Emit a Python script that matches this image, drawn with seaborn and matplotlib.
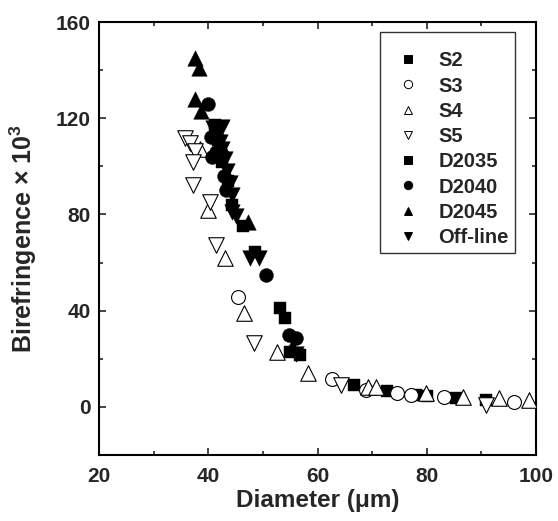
import matplotlib
matplotlib.use("Agg")
import matplotlib.pyplot as plt
from matplotlib.lines import Line2D
from matplotlib.ticker import MultipleLocator
import seaborn as sns
import pandas as pd

# Fibre diameter (um) and birefringence (x 10^3) for each spinning series
s2_x = [66.6, 72.8, 78.0, 80.0, 85.3, 90.8]
s2_y = [9.1, 6.7, 5.0, 4.6, 3.7, 2.9]

s3_x = [45.5, 62.7, 68.8, 74.6, 77.1, 83.1, 96.0]
s3_y = [45.7, 11.6, 7.1, 5.8, 5.0, 4.2, 2.1]

s4_x = [38.4, 40.0, 43.0, 46.6, 52.5, 58.2, 69.2, 70.8, 79.8, 86.6, 93.2, 98.7]
s4_y = [107.0, 82.0, 62.0, 39.0, 22.9, 13.9, 8.3, 8.3, 5.8, 4.2, 3.7, 2.9]

s5_x = [35.8, 36.7, 37.6, 37.2, 37.2, 40.3, 41.5, 48.4, 64.3, 90.8]
s5_y = [111.8, 109.7, 106.5, 101.8, 92.3, 85.0, 67.3, 26.6, 9.0, 0.8]

d2035_x = [41.3, 41.8, 42.5, 43.6, 44.3, 46.4, 48.6, 53.2, 54.1, 55.0, 56.8]
d2035_y = [117.0, 111.0, 102.0, 94.0, 84.0, 75.0, 64.5, 41.0, 37.0, 23.0, 21.5]

d2040_x = [40.0, 40.5, 40.6, 41.5, 42.8, 43.3, 50.5, 54.7, 56.0]
d2040_y = [126.0, 112.0, 104.0, 106.0, 96.0, 90.0, 55.0, 30.0, 28.5]

d2045_x = [37.6, 38.3, 37.6, 38.6, 41.5, 42.5, 47.2, 55.3]
d2045_y = [145.0, 141.0, 128.0, 123.0, 114.0, 108.0, 77.0, 25.0]

offline_x = [40.8, 42.6, 41.5, 42.2, 42.5, 43.0, 43.5, 44.0, 44.3, 44.4, 45.0, 47.7, 49.2, 56.0]
offline_y = [116.0, 116.5, 113.0, 110.0, 107.0, 103.0, 98.0, 93.0, 88.0, 81.0, 79.5, 62.0, 62.0, 22.0]

series_names = ["S2", "S3", "S4", "S5", "D2035", "D2040", "D2045", "Off-line"]
series_x = [s2_x, s3_x, s4_x, s5_x, d2035_x, d2040_x, d2045_x, offline_x]
series_y = [s2_y, s3_y, s4_y, s5_y, d2035_y, d2040_y, d2045_y, offline_y]

# marker, filled?, marker area (pt^2)
styles = {
    "S2": ("s", True, 80),
    "S3": ("o", False, 100),
    "S4": ("^", False, 125),
    "S5": ("v", False, 125),
    "D2035": ("s", True, 80),
    "D2040": ("o", True, 100),
    "D2045": ("^", True, 125),
    "Off-line": ("v", True, 125),
}

frames = []
for name, xs, ys in zip(series_names, series_x, series_y):
    frames.append(pd.DataFrame({"Diameter": xs, "Birefringence": ys, "Series": name}))
df = pd.concat(frames, ignore_index=True)

sns.set_style("ticks")
plt.rcParams["font.family"] = ["Liberation Sans", "DejaVu Sans"]
plt.rcParams["font.weight"] = "bold"
plt.rcParams["mathtext.fontset"] = "custom"
plt.rcParams["mathtext.rm"] = "Liberation Sans"
plt.rcParams["mathtext.it"] = "Liberation Sans"

fig = plt.figure(figsize=(5.58, 5.21), dpi=100)
ax = fig.add_axes([99 / 558, 1 - 455 / 521, 437 / 558, 433 / 521])

for name in series_names:
    marker, filled, size = styles[name]
    sub = df[df["Series"] == name]
    sns.scatterplot(
        data=sub, x="Diameter", y="Birefringence", ax=ax,
        marker=marker, s=size,
        color="black" if filled else "white",
        edgecolor="black", linewidth=0.8 if not filled else 0.3,
        legend=False, zorder=3,
    )

ax.set_xlim(20, 100)
ax.set_ylim(-20, 160)
ax.xaxis.set_major_locator(MultipleLocator(20))
ax.xaxis.set_minor_locator(MultipleLocator(10))
ax.yaxis.set_major_locator(MultipleLocator(40))
ax.yaxis.set_minor_locator(MultipleLocator(20))
ax.tick_params(which="both", direction="in", top=True, right=True, width=1.2,
               labelsize=15)
ax.tick_params(axis="x", pad=9)
ax.tick_params(axis="y", pad=6)
ax.tick_params(which="major", length=5)
ax.tick_params(which="minor", length=3)
for lab in ax.get_xticklabels() + ax.get_yticklabels():
    lab.set_fontweight("bold")
for sp in ax.spines.values():
    sp.set_linewidth(1.5)
    sp.set_color("black")

ax.set_xlabel("Diameter (μm)", fontsize=17.5, fontweight="bold", labelpad=2)
ax.set_ylabel(r"Birefringence × 10$^3$", fontsize=18, fontweight="bold", labelpad=12)

handles = []
for name in series_names:
    marker, filled, _ = styles[name]
    handles.append(Line2D([], [], linestyle="none", marker=marker, markersize=6,
                          markerfacecolor="black" if filled else "white",
                          markeredgecolor="black", markeredgewidth=0.7))
leg = ax.legend(handles, series_names, loc="upper right",
                bbox_to_anchor=((515 - 99) / 437, (455 - 32) / 433),
                borderaxespad=0, frameon=True, fancybox=False,
                prop={"weight": "bold", "size": 14.5}, labelspacing=0.31,
                handlelength=2.2, handletextpad=0.4, borderpad=0.3,
                title=" ", title_fontsize=5)
leg.get_frame().set_edgecolor("black")
leg.get_frame().set_linewidth(1.0)

fig.savefig("out.png", dpi=100)
